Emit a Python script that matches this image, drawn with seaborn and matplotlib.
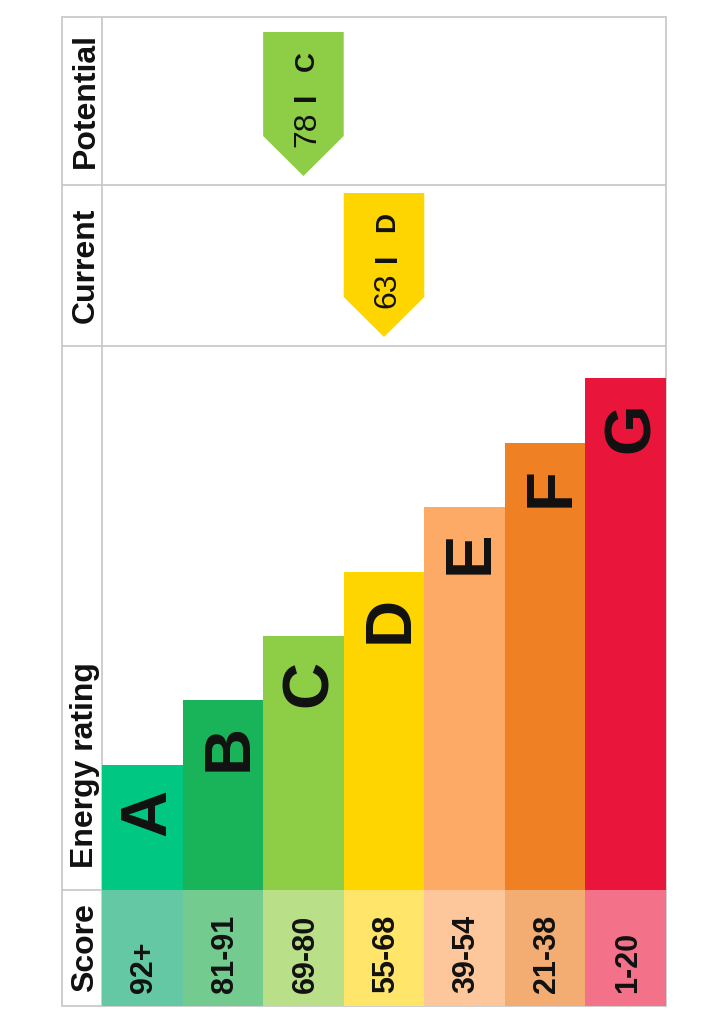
import matplotlib
matplotlib.use('Agg')
import matplotlib.pyplot as plt
import seaborn as sns
from matplotlib.patches import Polygon, Rectangle

# EPC bands, score ranges and colours
bands = ['A', 'B', 'C', 'D', 'E', 'F', 'G']
score_ranges = ['92+', '81-91', '69-80', '55-68', '39-54', '21-38', '1-20']
band_floor = [92, 81, 69, 55, 39, 21, 1]
band_colours = ['#00c781', '#19b459', '#8dce46', '#ffd500', '#fcaa65', '#ef8023', '#e9153b']
score_colours = ['#64c8a5', '#73cb8f', '#b9df89', '#ffe569', '#fec69b', '#f3ac72', '#f3728a']
# bar lengths (row is 544 long)
bar_length = [125, 190, 254, 318, 383, 447, 512]
current_score = 63
potential_score = 78

sns.set_style('white')
plt.rcParams['font.family'] = ['Liberation Sans', 'DejaVu Sans']
INK = '#111111'
GRID = '#c6c6c6'

W, H = 724, 1024
fig = plt.figure(figsize=(W / 100, H / 100), dpi=100)

# table frame in pixels
left, head, right = 62, 102, 666
top, bottom = 17, 1006
pot_row = (17, 185)
cur_row = (185, 346)
bar_row = (346, 890)
score_row = (890, 1006)


def row_axes(r):
    ax = fig.add_axes([head / W, 1 - r[1] / H, (right - head) / W, (r[1] - r[0]) / H])
    ax.set_axis_off()
    return ax


def rating_index(score):
    return next(i for i, f in enumerate(band_floor) if score >= f)


# frame lines and header column
frame = fig.add_axes([0, 0, 1, 1])
frame.set_xlim(0, W)
frame.set_ylim(H, 0)
frame.set_axis_off()
frame.add_patch(Rectangle((left, top), right - left, bottom - top, fill=False, ec=GRID, lw=1.2))
frame.vlines(head, top, bottom, color=GRID, lw=1.2)
frame.hlines([pot_row[1], cur_row[1], bar_row[1]], left, right, color=GRID, lw=1.2)

hx = (left + head) / 2
hkw = dict(rotation=90, rotation_mode='anchor', va='center_baseline',
           fontsize=23, fontweight='bold', color=INK)
frame.text(hx, sum(pot_row) / 2, 'Potential', ha='center', **hkw)
frame.text(hx, sum(cur_row) / 2, 'Current', ha='center', **hkw)
frame.text(hx, bar_row[1] - 22, 'Energy rating', ha='left', **hkw)
frame.text(hx, sum(score_row) / 2, 'Score', ha='center', **hkw)

# energy rating bars
ax = row_axes(bar_row)
sns.barplot(x=bands, y=bar_length, hue=bands, palette=band_colours, width=1,
            saturation=1, legend=False, linewidth=0, ax=ax)
ax.set_xlim(-0.5, 6.5)
ax.set_ylim(0, bar_row[1] - bar_row[0])
ax.set_axis_off()
for i, (b, l) in enumerate(zip(bands, bar_length)):
    ax.text(i, l - 24, b, rotation=90, rotation_mode='anchor', ha='right',
            va='center_baseline', fontsize=47, fontweight='bold', color=INK)

# score row
ax_s = row_axes(score_row)
sns.barplot(x=bands, y=[1] * len(bands), hue=bands, palette=score_colours, width=1,
            saturation=1, legend=False, linewidth=0, ax=ax_s)
ax_s.set_xlim(-0.5, 6.5)
ax_s.set_ylim(0, 1)
ax_s.set_axis_off()
for i, s in enumerate(score_ranges):
    ax_s.annotate(s, (i, 0), xytext=(-1, 13 * 0.72), textcoords='offset points',
                  rotation=90, rotation_mode='anchor', ha='left', va='center_baseline',
                  fontsize=22, fontweight='bold', color=INK)

# current / potential arrows
for r, score in [(cur_row, current_score), (pot_row, potential_score)]:
    ax_r = row_axes(r)
    ax_r.set_xlim(-0.5, 6.5)
    ax_r.set_ylim(0, r[1] - r[0])
    i = rating_index(score)
    ax_r.add_patch(Polygon([(i - 0.5, 153), (i + 0.5, 153), (i + 0.5, 49), (i, 9), (i - 0.5, 49)],
                           closed=True, fc=band_colours[i], ec='none'))
    akw = dict(rotation=90, rotation_mode='anchor', va='center_baseline', color=INK)
    ax_r.text(i, 38, str(score), ha='left', fontsize=23, **akw)
    ax_r.text(i, 88, 'I', ha='center', fontsize=22, fontweight='bold', **akw)
    ax_r.text(i, 124, bands[i], ha='center', fontsize=20, fontweight='bold', **akw)

fig.savefig('out.png', dpi=100)
